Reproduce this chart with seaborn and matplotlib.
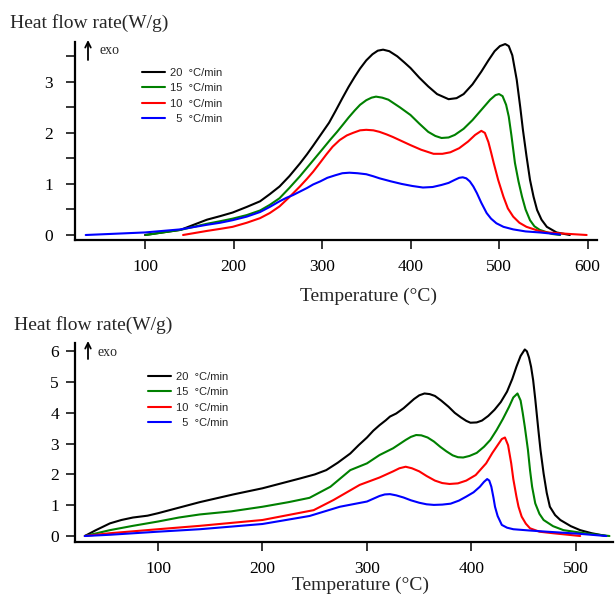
"""
DSC curves at four heating rates - two panels, heat flow vs temperature.
"""

import matplotlib
matplotlib.use('Agg')
import matplotlib.pyplot as plt
import pandas as pd
import seaborn as sns
from matplotlib.ticker import MultipleLocator

# heating rates and legend labels
rates = ['20', '15', '10', '5']
rate_labels = ['20  °C/min', '15  °C/min', '10  °C/min', '  5  °C/min']
palette = {'20': 'black', '15': '#008000', '10': '#ff0000', '5': '#0000ff'}

# ---- top panel ----
top_t20 = [100, 120, 140, 155, 170, 185, 199, 215, 230, 241, 252, 263, 275, 283, 290, 300, 308, 315,
           323, 330, 337, 343, 350, 357, 363, 369, 376, 385, 393, 400, 410, 420, 430, 443, 452, 460,
           470, 480, 488, 495, 501, 507, 511, 515, 520, 524, 527, 531, 535, 539, 543, 548, 554, 565, 580]
top_q20 = [0.0, 0.05, 0.1, 0.2, 0.3, 0.37, 0.44, 0.55, 0.66, 0.8, 0.95, 1.15, 1.4, 1.58, 1.75, 2.0, 2.2, 2.42,
           2.68, 2.9, 3.1, 3.26, 3.42, 3.54, 3.61, 3.63, 3.6, 3.5, 3.38, 3.27, 3.08, 2.91, 2.76, 2.66, 2.68, 2.76,
           2.95, 3.2, 3.42, 3.6, 3.7, 3.74, 3.7, 3.52, 3.04, 2.5, 2.06, 1.55, 1.08, 0.75, 0.49, 0.3, 0.16, 0.05, 0.0]

top_t15 = [101, 120, 140, 155, 170, 185, 199, 215, 230, 241, 252, 263, 275, 288, 300, 309, 317, 324,
           330, 337, 343, 350, 356, 361, 368, 375, 388, 400, 410, 420, 428, 435, 443, 450, 460, 470,
           480, 490, 496, 500, 504, 508, 511, 514, 518, 522, 526, 530, 535, 540, 546, 560, 569]
top_q15 = [0.0, 0.05, 0.1, 0.16, 0.22, 0.27, 0.32, 0.39, 0.48, 0.59, 0.72, 0.92, 1.15, 1.42, 1.67, 1.86, 2.02, 2.17,
           2.3, 2.44, 2.55, 2.64, 2.69, 2.71, 2.69, 2.65, 2.5, 2.35, 2.18, 2.02, 1.94, 1.9, 1.91, 1.96, 2.08, 2.25,
           2.45, 2.65, 2.74, 2.76, 2.72, 2.55, 2.32, 1.95, 1.41, 1.05, 0.75, 0.5, 0.29, 0.17, 0.1, 0.02, 0.0]

top_t10 = [143, 170, 185, 199, 215, 230, 241, 252, 263, 275, 283, 290, 298, 305, 312, 320, 328, 335,
           343, 350, 358, 365, 373, 380, 390, 400, 412, 426, 436, 445, 455, 465, 473, 480, 484, 488,
           491, 494, 499, 505, 510, 516, 523, 531, 545, 554, 580, 599]
top_q10 = [0.0, 0.08, 0.12, 0.16, 0.24, 0.33, 0.43, 0.56, 0.74, 0.95, 1.1, 1.24, 1.42, 1.58, 1.73, 1.86, 1.95, 2.0,
           2.05, 2.06, 2.05, 2.02, 1.97, 1.92, 1.84, 1.76, 1.67, 1.59, 1.59, 1.62, 1.7, 1.83, 1.96, 2.04, 2.0, 1.82,
           1.62, 1.41, 1.08, 0.75, 0.52, 0.36, 0.24, 0.16, 0.08, 0.05, 0.02, 0.0]

top_t5 = [33, 60, 100, 140, 170, 185, 199, 215, 230, 241, 252, 260, 267, 275, 283, 290, 298, 306,
          315, 323, 331, 340, 350, 358, 365, 378, 390, 402, 414, 425, 435, 443, 450, 455, 459, 463,
          467, 471, 475, 480, 486, 491, 497, 505, 516, 530, 546, 569]
top_q5 = [0.0, 0.02, 0.05, 0.11, 0.2, 0.24, 0.29, 0.36, 0.45, 0.55, 0.66, 0.73, 0.78, 0.85, 0.92, 0.99, 1.05, 1.12,
          1.17, 1.21, 1.22, 1.21, 1.19, 1.15, 1.11, 1.05, 1.0, 0.96, 0.93, 0.94, 0.98, 1.02, 1.08, 1.12, 1.13, 1.11,
          1.05, 0.95, 0.82, 0.63, 0.43, 0.32, 0.23, 0.16, 0.11, 0.07, 0.05, 0.01]

# ---- bottom panel ----
bot_t20 = [30, 40, 54, 65, 76, 90, 100, 120, 140, 172, 200, 236, 250, 261, 272, 284, 292, 300, 306,
           312, 318, 322, 328, 335, 340, 345, 350, 355, 360, 365, 371, 378, 384, 390, 395, 399, 405,
           410, 416, 422, 428, 434, 439, 443, 447, 451, 453, 455, 457, 459, 461, 464, 466, 469, 472,
           475, 480, 485, 495, 504, 515, 529]
bot_q20 = [0.0, 0.18, 0.41, 0.52, 0.6, 0.66, 0.74, 0.92, 1.1, 1.35, 1.55, 1.87, 2.0, 2.14, 2.38, 2.68, 2.95, 3.2, 3.42,
           3.6, 3.76, 3.88, 3.98, 4.15, 4.3, 4.45, 4.57, 4.63, 4.61, 4.55, 4.4, 4.2, 4.0, 3.85, 3.74, 3.68, 3.69,
           3.75, 3.9, 4.1, 4.35, 4.69, 5.1, 5.5, 5.85, 6.06, 6.0, 5.8, 5.5, 5.06, 4.45, 3.44, 2.8, 2.03, 1.4,
           0.95, 0.68, 0.52, 0.32, 0.19, 0.09, 0.0]

bot_t15 = [30, 54, 76, 100, 120, 140, 170, 200, 225, 245, 265, 284, 300, 312, 325, 337, 342, 347,
           352, 358, 364, 370, 376, 382, 387, 392, 398, 405, 412, 418, 424, 430, 436, 440, 444, 447,
           449, 451, 454, 456, 458, 461, 465, 469, 478, 488, 510, 532]
bot_q15 = [0.0, 0.19, 0.33, 0.47, 0.6, 0.7, 0.8, 0.95, 1.1, 1.24, 1.6, 2.14, 2.36, 2.63, 2.85, 3.12, 3.22, 3.28,
           3.27, 3.2, 3.07, 2.9, 2.75, 2.62, 2.56, 2.55, 2.6, 2.7, 2.9, 3.12, 3.44, 3.8, 4.2, 4.5, 4.63, 4.4,
           4.0, 3.55, 2.8, 2.14, 1.6, 1.06, 0.72, 0.52, 0.32, 0.19, 0.08, 0.0]

bot_t10 = [30, 54, 100, 140, 200, 249, 268, 293, 312, 325, 331, 337, 343, 350, 357, 365, 372, 379,
           387, 395, 404, 414, 420, 425, 429, 432, 435, 438, 440, 443, 445, 448, 452, 456, 465, 478, 504]
bot_q10 = [0.0, 0.09, 0.22, 0.33, 0.52, 0.84, 1.17, 1.66, 1.9, 2.1, 2.2, 2.25, 2.2, 2.1, 1.95, 1.8, 1.72, 1.69,
           1.71, 1.8, 1.98, 2.36, 2.7, 2.95, 3.15, 3.2, 2.95, 2.36, 1.85, 1.28, 0.95, 0.63, 0.4, 0.25, 0.14,
           0.09, 0.0]

bot_t5 = [30, 54, 100, 140, 200, 245, 274, 300, 312, 317, 322, 328, 335, 342, 350, 357, 364, 372,
          380, 388, 395, 402, 408, 412, 415, 417, 419, 421, 422.5, 425, 429, 434, 440, 455, 472, 500, 529]
bot_q5 = [0.0, 0.04, 0.14, 0.22, 0.39, 0.65, 0.95, 1.12, 1.3, 1.35, 1.36, 1.32, 1.25, 1.16, 1.08, 1.03, 1.01, 1.02,
          1.05, 1.15, 1.28, 1.42, 1.6, 1.76, 1.85, 1.8, 1.6, 1.25, 0.95, 0.65, 0.36, 0.27, 0.22, 0.18, 0.14,
          0.08, 0.0]


def to_long(series):
    frames = []
    for rate, (t, q) in zip(rates, series):
        frames.append(pd.DataFrame({'T': t, 'Q': q, 'rate': rate}))
    return pd.concat(frames, ignore_index=True)


top_df = to_long([(top_t20, top_q20), (top_t15, top_q15), (top_t10, top_q10), (top_t5, top_q5)])
bot_df = to_long([(bot_t20, bot_q20), (bot_t15, bot_q15), (bot_t10, bot_q10), (bot_t5, bot_q5)])

sns.set_theme(style='ticks')
plt.rcParams['font.family'] = ['Liberation Serif', 'DejaVu Serif']
plt.rcParams['axes.linewidth'] = 1.6

W, H = 615, 599
fig = plt.figure(figsize=(W / 100, H / 100), dpi=100)


def px(x, y):
    return x / W, 1 - y / H


def draw_panel(ax, df, xlim, ylim, xticks, yticks, ypad, legend_xy, arrow_x, arrow_y, exo_xy):
    sns.lineplot(data=df, x='T', y='Q', hue='rate', hue_order=rates, palette=palette,
                 estimator=None, sort=False, lw=1.5, ax=ax, legend=True)
    ax.set_xlim(*xlim)
    ax.set_ylim(*ylim)
    ax.set_xticks(xticks)
    ax.set_yticks(yticks)
    ax.set_xlabel('')
    ax.set_ylabel('')
    sns.despine(ax=ax)
    ax.tick_params(axis='both', which='both', direction='out', length=6.5, width=1.1,
                   color='black', labelsize=12.5, labelcolor='black')
    ax.tick_params(axis='x', pad=7)
    ax.tick_params(axis='y', pad=ypad)
    for s in ax.spines.values():
        s.set_color('black')

    handles, _ = ax.get_legend_handles_labels()
    ax.legend(handles, rate_labels, loc='upper left', bbox_to_anchor=px(*legend_xy),
              bbox_transform=fig.transFigure, frameon=False, borderpad=0, borderaxespad=0,
              handlelength=2.1, handletextpad=0.45, labelspacing=0.48,
              prop={'family': 'Liberation Sans', 'size': 8})

    ax.annotate('', xy=px(arrow_x, arrow_y[1]), xytext=px(arrow_x, arrow_y[0]),
                xycoords='figure fraction', textcoords='figure fraction',
                arrowprops=dict(arrowstyle='->', lw=1.3, color='black', mutation_scale=10,
                                shrinkA=0, shrinkB=0))
    fig.text(*px(*exo_xy), 'exo', fontsize=10, va='center', ha='left')


ax1 = fig.add_axes([75 / W, 1 - 240 / H, (597 - 75) / W, (240 - 42) / H])
draw_panel(ax1, top_df, (20.9, 610.7), (-0.098, 3.78), [100, 200, 300, 400, 500, 600],
           [0, 1, 2, 3], 9.4, (142, 68), 88, (60, 40), (99, 51))
ax1.yaxis.set_minor_locator(MultipleLocator(0.5))

ax2 = fig.add_axes([75 / W, 1 - 542 / H, (613 - 75) / W, (542 - 343) / H])
draw_panel(ax2, bot_df, (20.6, 535.4), (-0.195, 6.27), [100, 200, 300, 400, 500],
           [0, 1, 2, 3, 4, 5, 6], 5, (148, 372), 88, (359, 341), (97, 352))

# axis titles
fig.text(*px(10, 28), 'Heat flow rate(W/g)', fontsize=14, va='baseline', ha='left')
fig.text(*px(14, 330), 'Heat flow rate(W/g)', fontsize=14, va='baseline', ha='left')
fig.text(*px(368, 301), 'Temperature (°C)', fontsize=14, va='baseline', ha='center')
fig.text(*px(361, 590), 'Temperature (°C)', fontsize=14, va='baseline', ha='center')

fig.savefig('out.png', dpi=100, facecolor='white')
plt.close(fig)
